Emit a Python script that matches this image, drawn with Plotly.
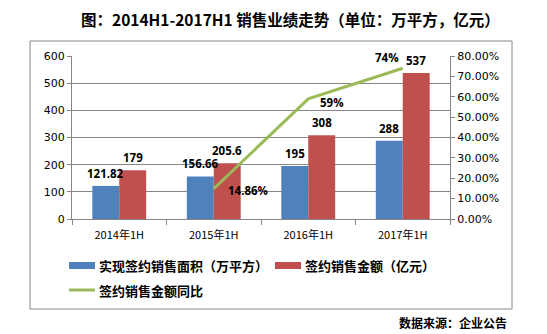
import plotly.graph_objects as go

categories = ["2014年1H", "2015年1H", "2016年1H", "2017年1H"]
area = [121.82, 156.66, 195, 288]
area_labels = ["121.82", "156.66", "195", "288"]
amount = [179, 205.6, 308, 537]
amount_labels = ["179", "205.6", "308", "537"]
yoy_cats = ["2015年1H", "2016年1H", "2017年1H"]
yoy = [0.1486, 0.59, 0.74]
yoy_labels = ["14.86%", "59%", "74%"]

series_names = ["实现签约销售面积（万平方）", "签约销售金额（亿元）", "签约销售金额同比"]
colors = ["#4F81BD", "#C0504D", "#9BBB59"]

cjk = "Noto Sans CJK SC"
num_font = "DejaVu Sans"
lbl_font = dict(family="Open Sans", size=11.5, color="#000000", weight="bold")

fig = go.Figure()
fig.add_trace(go.Bar(
    x=categories, y=area, name=series_names[0],
    marker=dict(color=colors[0], line=dict(width=0)),
))
fig.add_trace(go.Bar(
    x=categories, y=amount, name=series_names[1],
    marker=dict(color=colors[1], line=dict(width=0)),
))
fig.add_trace(go.Scatter(
    x=yoy_cats, y=yoy, name=series_names[2], yaxis="y2",
    mode="lines", line=dict(color=colors[2], width=3),
    cliponaxis=False,
))

L, R, T, B = 72, 97, 56, 115
W, H = 547, 334
pw, ph = W - L - R, H - T - B
bargap = 0.43
bar_px = (1 - bargap) * (pw / len(categories)) / 2

def px_x(px):
    return (px - L) / pw

def px_y(py):
    return (H - B - py) / ph

shapes = [dict(
    type="rect", xref="paper", yref="paper",
    x0=px_x(30), x1=px_x(512), y0=px_y(309), y1=px_y(41),
    line=dict(color="#868686", width=1), fillcolor="rgba(0,0,0,0)", layer="below",
)]
# legend swatches
shapes.append(dict(type="rect", xref="paper", yref="paper",
                   x0=px_x(69), x1=px_x(95), y0=px_y(269), y1=px_y(262),
                   line=dict(width=0), fillcolor=colors[0]))
shapes.append(dict(type="rect", xref="paper", yref="paper",
                   x0=px_x(275), x1=px_x(301), y0=px_y(269), y1=px_y(262),
                   line=dict(width=0), fillcolor=colors[1]))
shapes.append(dict(type="line", xref="paper", yref="paper",
                   x0=px_x(69), x1=px_x(95), y0=px_y(290), y1=px_y(290),
                   line=dict(width=3, color=colors[2])))

leg_font = dict(family=cjk, size=13, color="#000000", weight="bold")
annotations = [
    dict(text="图：2014H1-2017H1 销售业绩走势（单位：万平方，亿元）",
         xref="paper", yref="paper", x=px_x(290), y=px_y(19),
         xanchor="center", yanchor="middle", showarrow=False,
         font=dict(family=cjk, size=15.5, color="#000000", weight="bold")),
    dict(text="数据来源：企业公告",
         xref="paper", yref="paper", x=px_x(509), y=px_y(322),
         xanchor="right", yanchor="middle", showarrow=False,
         font=dict(family=cjk, size=12, color="#000000", weight="bold")),
    dict(text=series_names[0], xref="paper", yref="paper", x=px_x(97), y=px_y(265.5),
         xanchor="left", yanchor="middle", showarrow=False, font=leg_font),
    dict(text=series_names[1], xref="paper", yref="paper", x=px_x(303), y=px_y(265.5),
         xanchor="left", yanchor="middle", showarrow=False, font=leg_font),
    dict(text=series_names[2], xref="paper", yref="paper", x=px_x(97), y=px_y(290),
         xanchor="left", yanchor="middle", showarrow=False, font=leg_font),
]
# bar value labels (drawn above all bars)
for c, v, t in zip(categories, area, area_labels):
    annotations.append(dict(x=c, y=v, xref="x", yref="y", text=t, showarrow=False,
                            xanchor="center", yanchor="bottom", xshift=-bar_px / 2,
                            yshift=3, font=lbl_font))
for c, v, t in zip(categories, amount, amount_labels):
    annotations.append(dict(x=c, y=v, xref="x", yref="y", text=t, showarrow=False,
                            xanchor="center", yanchor="bottom", xshift=bar_px / 2,
                            yshift=3, font=lbl_font))
# yoy labels
yoy_pos = [dict(xanchor="left", yanchor="middle", xshift=12, yshift=-2),
           dict(xanchor="left", yanchor="middle", xshift=10, yshift=-4),
           dict(xanchor="right", yanchor="middle", xshift=-2, yshift=11)]
for c, v, t, p in zip(yoy_cats, yoy, yoy_labels, yoy_pos):
    annotations.append(dict(x=c, y=v, xref="x", yref="y2", text=t, showarrow=False,
                            font=lbl_font, **p))

fig.update_layout(
    width=W, height=H,
    margin=dict(l=L, r=R, t=T, b=B),
    paper_bgcolor="white", plot_bgcolor="white",
    barmode="group", bargap=bargap, bargroupgap=0,
    showlegend=False,
    xaxis=dict(
        type="category", showline=True, linecolor="#868686", linewidth=1,
        ticks="outside", ticklen=5, tickcolor="#868686", tickson="boundaries",
        tickfont=dict(family=cjk, size=11, color="#000000"),
        ticklabelstandoff=6,
        showgrid=False, mirror=False,
    ),
    yaxis=dict(
        range=[0, 600], dtick=100, showline=True, linecolor="#868686",
        ticks="outside", ticklen=4, tickcolor="#868686",
        showgrid=True, gridcolor="#868686", gridwidth=1,
        tickfont=dict(family=num_font, size=11, color="#000000"),
        zeroline=False,
    ),
    yaxis2=dict(
        range=[0, 0.8], dtick=0.1, tickformat=".2%", overlaying="y", side="right",
        showline=True, linecolor="#868686", ticks="outside", ticklen=4,
        tickcolor="#868686", showgrid=False, zeroline=False,
        tickfont=dict(family=num_font, size=11, color="#000000"),
    ),
    shapes=shapes,
    annotations=annotations,
)

fig.write_html("out.html")
